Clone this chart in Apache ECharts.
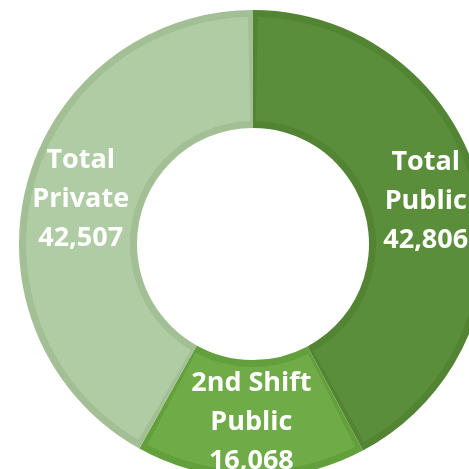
<!DOCTYPE html>
<html>
<head>
<meta charset="utf-8">
<title>Public / Private</title>
<style>
    html, body { margin: 0; padding: 0; background: #fff; }
    #main { width: 469px; height: 469px; }
</style>
<script src="https://cdn.jsdelivr.net/npm/echarts@6/dist/echarts.min.js"></script>
</head>
<body>
<div id="main"></div>
<script type="text/javascript">
    // data
    var names = ['Total\nPublic', '2nd Shift\nPublic', 'Total\nPrivate'];
    var values = [42806, 16068, 42507];
    var fillColors = ['#5a8e3a', '#6fab46', '#b0cca4'];
    var edgeColors = ['#538433', '#62a03c', '#a2bf95'];

    var center = [253, 244];

    function fmt(n) {
        return n.toString().replace(/\B(?=(\d{3})+(?!\d))/g, ',');
    }

    var backData = [], frontData = [];
    for (var i = 0; i < names.length; i++) {
        backData.push({ name: names[i], value: values[i], itemStyle: { color: edgeColors[i] } });
        frontData.push({ name: names[i], value: values[i], itemStyle: { color: fillColors[i] } });
    }

    var myChart = echarts.init(document.getElementById('main'));

    var option = {
        animation: false,
        series: [{
            // darker rim behind each slice
            type: 'pie',
            silent: true,
            center: center,
            radius: [116, 234],
            startAngle: 90,
            clockwise: true,
            label: { show: false },
            labelLine: { show: false },
            data: backData
        }, {
            type: 'pie',
            center: center,
            radius: [123, 227],
            startAngle: 90,
            clockwise: true,
            padAngle: 2.5,
            label: {
                show: true,
                position: 'inside',
                color: '#fff',
                fontFamily: 'Open Sans',
                fontWeight: 'bold',
                fontSize: 27,
                lineHeight: 39,
                formatter: function (p) {
                    return p.name + '\n' + fmt(p.value);
                }
            },
            labelLine: { show: false },
            data: frontData
        }]
    };

    myChart.setOption(option);
</script>
</body>
</html>
